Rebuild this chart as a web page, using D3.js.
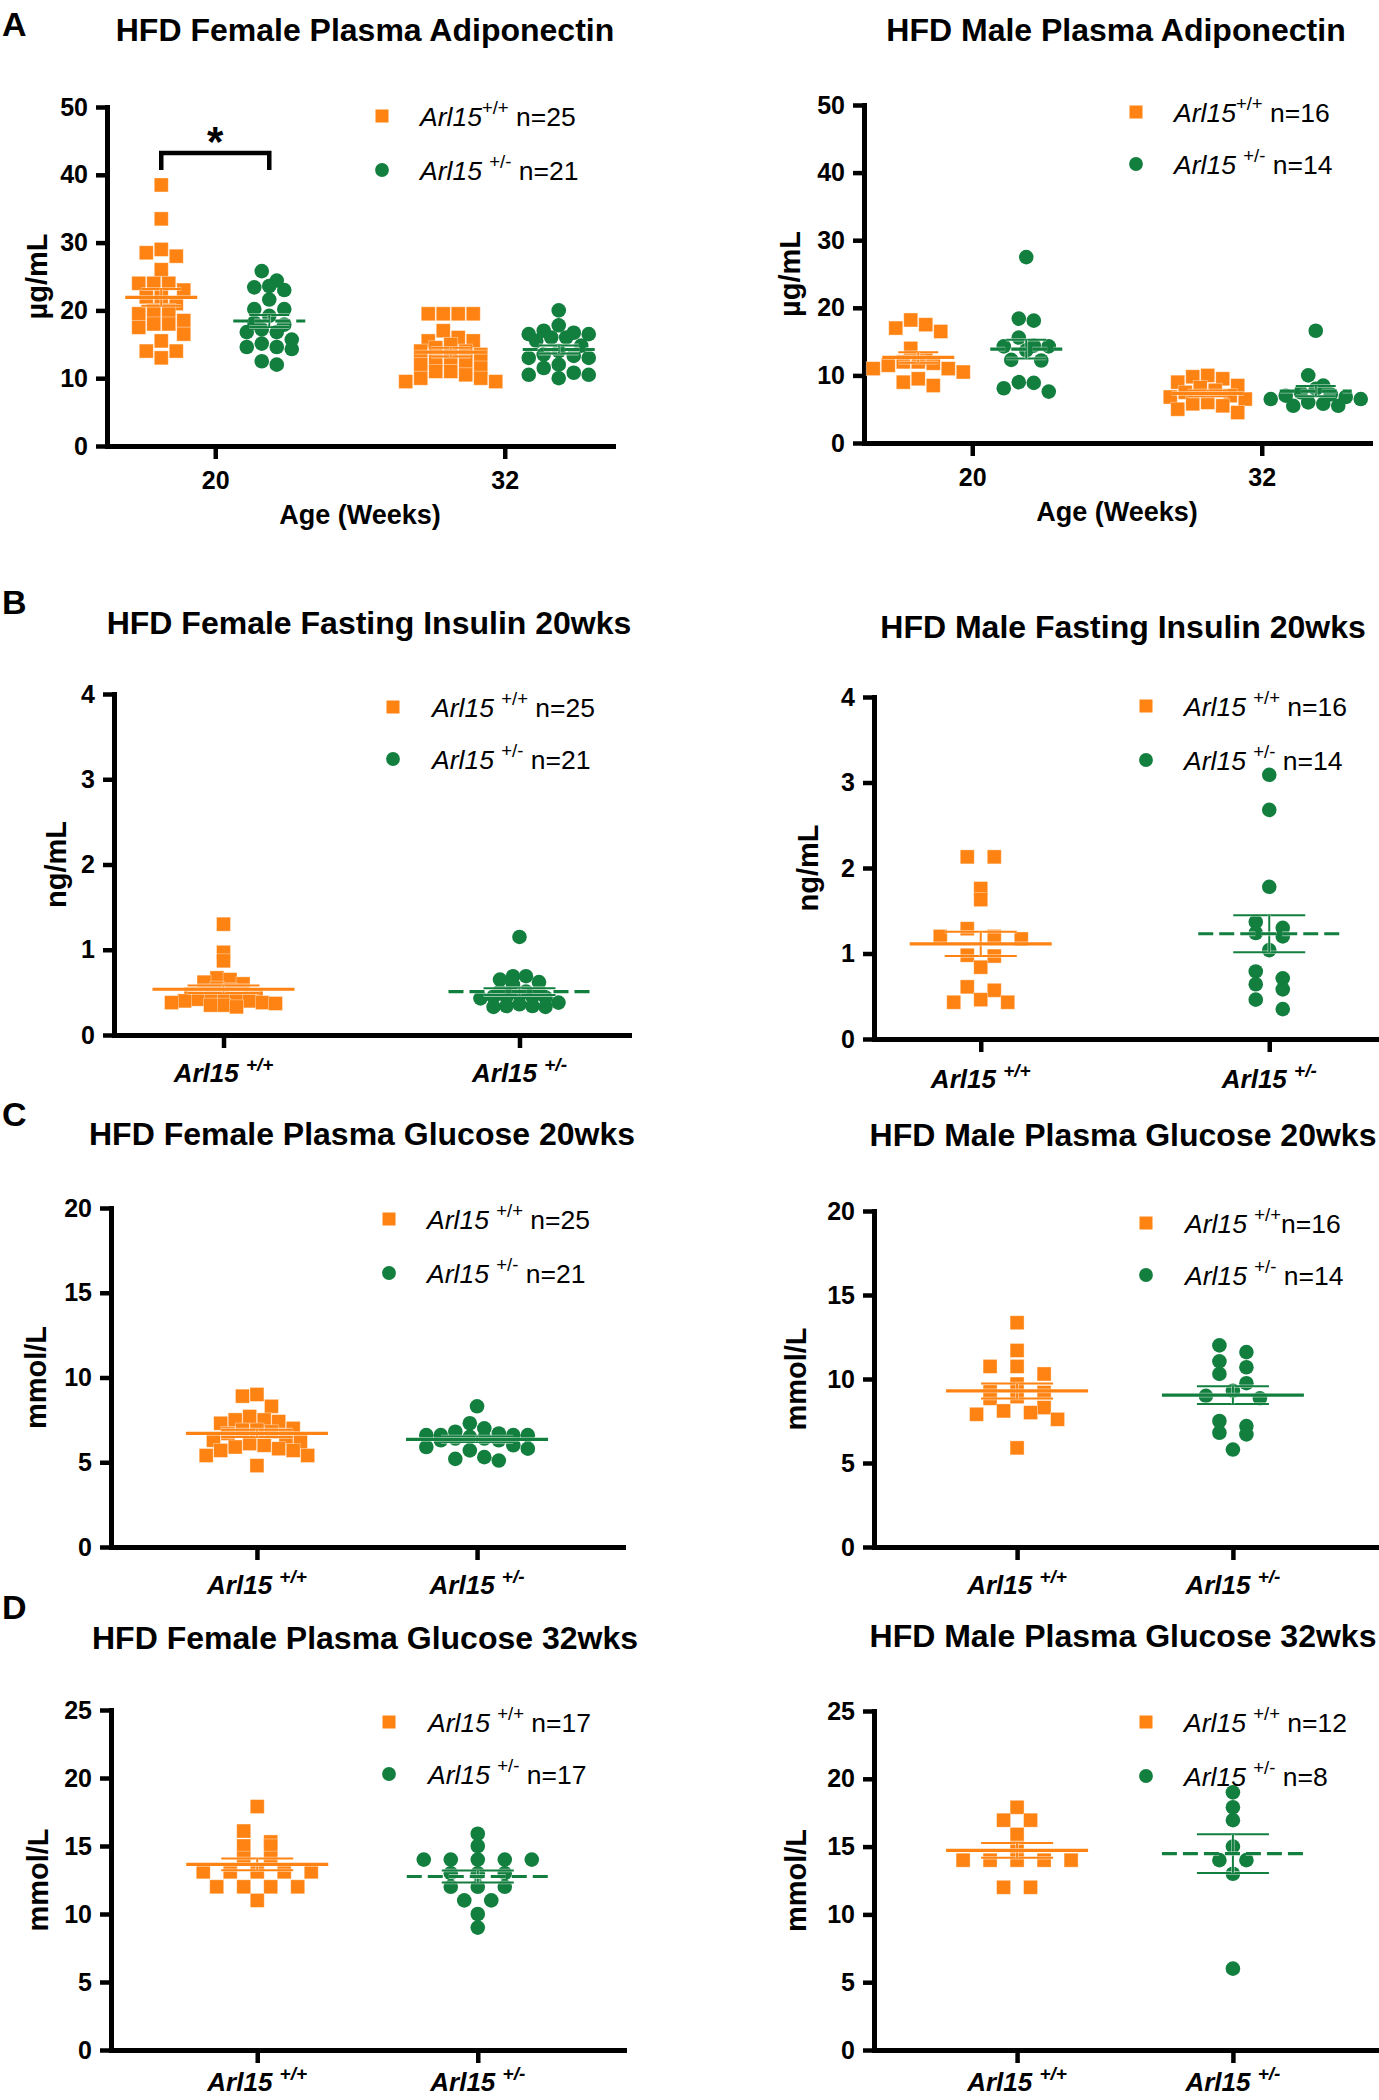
<!DOCTYPE html>
<html>
<head>
<meta charset="utf-8">
<script src="https://cdn.jsdelivr.net/npm/d3@7"></script>
<style>
  body { margin: 0; background: #ffffff; }
  svg { display: block; }
  text { font-family: "Liberation Sans", Arial, Helvetica, sans-serif; fill: #000; }
</style>
</head>
<body>
<svg id="fig" width="1379" height="2100"></svg>
<script>
// ---------------- DATA ----------------
const ages = ["20", "32"];
const genotypeCats = ["+/+", "+/-"];

// A: plasma adiponectin (µg/mL)
const adipoFemaleWT20  = [38.5, 33.5, 29, 28.5, 28, 26, 24, 24, 24, 23, 22, 22, 21, 20, 20, 19.5, 18.5, 18, 18, 17.5, 16.5, 15.5, 14, 14, 13];
const adipoFemaleHet20 = [25.8, 24.4, 23.6, 23.4, 23, 21.6, 20.2, 20.2, 19.2, 18.2, 17.9, 17.2, 16.8, 16.8, 15.7, 15.1, 14.6, 14.6, 14.3, 12.5, 12];
const adipoFemaleWT32  = [19.5, 19.5, 19.5, 19.5, 17, 16, 15.5, 15.5, 15, 14.5, 14, 14, 13.5, 13, 12.5, 12.5, 12, 11.5, 11, 11, 10.5, 10, 10, 9.5, 9.5];
const adipoFemaleHet32 = [20, 17.8, 17, 16.7, 16.5, 16.5, 16, 16, 15.5, 14.8, 14, 13.5, 13.3, 13, 13, 12, 11.5, 10.8, 10.5, 10.5, 10];
const adipoMaleWT20    = [18.2, 17.5, 17, 16.5, 14, 12.5, 12, 12, 11.8, 11.5, 11, 11, 10.5, 9.5, 9, 8.5];
const adipoMaleHet20   = [27.5, 18.4, 18.1, 15.6, 14.4, 14.3, 14.3, 13.7, 12.3, 12.2, 9, 8.9, 8.1, 7.6];
const adipoMaleWT32    = [10, 9.8, 9.5, 9, 8.5, 8.2, 7.8, 7.5, 7, 6.8, 6.5, 6, 5.8, 5.5, 5, 4.5];
const adipoMaleHet32   = [16.6, 10, 8.5, 8, 7.5, 7.2, 7, 6.8, 6.5, 6.5, 6, 5.8, 5.5, 5.5];

// B: fasting insulin 20 wks (ng/mL)
const insulinFemaleWT  = [1.3, 0.97, 0.87, 0.67, 0.65, 0.62, 0.6, 0.55, 0.53, 0.5, 0.5, 0.48, 0.47, 0.45, 0.45, 0.43, 0.42, 0.4, 0.4, 0.38, 0.38, 0.37, 0.35, 0.35, 0.33];
const insulinFemaleHet = [1.15, 0.69, 0.69, 0.65, 0.62, 0.59, 0.51, 0.51, 0.51, 0.47, 0.45, 0.45, 0.45, 0.44, 0.43, 0.38, 0.36, 0.34, 0.34, 0.33, 0.33];
const insulinMaleWT    = [2.13, 2.13, 1.76, 1.63, 1.29, 1.2, 1.2, 1.17, 0.98, 0.97, 0.84, 0.61, 0.57, 0.46, 0.43, 0.43];
const insulinMaleHet   = [3.09, 2.68, 1.78, 1.37, 1.3, 1.24, 1.2, 1.04, 0.79, 0.71, 0.64, 0.58, 0.46, 0.35];

// C: plasma glucose 20 wks (mmol/L)
const glu20FemaleWT  = [9.0, 8.9, 8.3, 7.7, 7.5, 7.5, 7.4, 7.3, 7.0, 6.9, 6.9, 6.8, 6.7, 6.5, 6.3, 6.2, 6.1, 6.0, 5.9, 5.8, 5.7, 5.7, 5.4, 5.4, 4.8];
const glu20FemaleHet = [8.3, 7.3, 7.0, 6.8, 6.7, 6.6, 6.6, 6.6, 6.6, 6.5, 6.4, 6.4, 6.3, 6.3, 6.0, 5.9, 5.8, 5.7, 5.3, 5.2, 5.1];
const glu20MaleWT    = [13.35, 11.7, 10.75, 10.75, 10.3, 9.7, 9.25, 9.2, 8.95, 8.85, 8.3, 8.1, 8.0, 7.9, 7.6, 5.9];
const glu20MaleHet   = [12.0, 11.6, 11.05, 10.7, 10.3, 9.75, 9.3, 9.0, 8.85, 7.5, 7.2, 6.8, 6.7, 5.8];

// D: plasma glucose 32 wks (mmol/L)
const glu32FemaleWT  = [17.9, 16.1, 15.3, 15, 15, 14.1, 14.1, 13.1, 13.1, 13.1, 13.1, 13.1, 12, 12, 12, 12, 11];
const glu32FemaleHet = [15.9, 15, 14, 14, 14, 14, 14, 13, 13, 13, 12, 12, 12, 11, 11, 10, 9];
const glu32MaleWT    = [17.9, 16.95, 16.95, 15.9, 14.9, 14, 14, 14, 14, 14, 12, 12];
const glu32MaleHet   = [19, 17.9, 16.95, 15, 14, 14, 13, 6];

// legend texts: [italic gene, superscript genotype, n]
const legendAF = [["Arl15", "+/+", " n=25"], ["Arl15 ", "+/-", " n=21"]];
const legendAM = [["Arl15", "+/+", " n=16"], ["Arl15 ", "+/-", " n=14"]];
const legendBF = [["Arl15 ", "+/+", " n=25"], ["Arl15 ", "+/-", "  n=21"]];
const legendBM = [["Arl15 ", "+/+", " n=16"], ["Arl15 ", "+/-", "  n=14"]];
const legendCF = [["Arl15 ", "+/+", " n=25"], ["Arl15 ", "+/-", " n=21"]];
const legendCM = [["Arl15 ", "+/+", "n=16"], ["Arl15 ", "+/-", " n=14"]];
const legendDF = [["Arl15 ", "+/+", " n=17"], ["Arl15 ", "+/-", "  n=17"]];
const legendDM = [["Arl15 ", "+/+", " n=12"], ["Arl15 ", "+/-", "  n=8"]];

const titles = [
  "HFD Female Plasma Adiponectin", "HFD Male Plasma Adiponectin",
  "HFD Female Fasting Insulin 20wks", "HFD Male Fasting Insulin 20wks",
  "HFD Female Plasma Glucose 20wks", "HFD Male Plasma Glucose 20wks",
  "HFD Female Plasma Glucose 32wks", "HFD Male Plasma Glucose 32wks"
];
const sigBracket = { cat: "20", low: 40.7, high: 43.2, label: "*" };

// ---------------- STYLE ----------------
const ORANGE = "#FF8312";
const GREEN = "#127F3F";
const FONT = '"Liberation Sans", Arial, Helvetica, sans-serif';
const SQ = 14;      // square marker side
const CR = 7.3;     // circle marker radius

const layoutA = { kind: "age", pad: 0.374, step: 15, tol: 12, meanHalf: 36, semHalf: 20, subOffset: 54 };
const layoutG = { kind: "geno", step: 27, tol: 11, meanHalf: 71, semHalf: 36, catDy: 47 };

const panels = [
  Object.assign({}, layoutA, { letter: "A", letterY: 36, title: titles[0], titleX: 365, titleY: 41,
    x0: 107, x1: 613, yTop: 107, yBot: 446, yMax: 50, yStep: 10, yLabel: "µg/mL", yLabelX: 37,
    legend: legendAF, legX: 382, legTX: 420, legY: [116, 170], dashGreen: true, sig: true,
    data: [[adipoFemaleWT20, adipoFemaleHet20], [adipoFemaleWT32, adipoFemaleHet32]] }),
  Object.assign({}, layoutA, { title: titles[1], titleX: 1116, titleY: 41,
    x0: 864, x1: 1370, yTop: 105, yBot: 443, yMax: 50, yStep: 10, yLabel: "µg/mL", yLabelX: 790,
    legend: legendAM, legX: 1136, legTX: 1174, legY: [112, 164], dashGreen: true,
    data: [[adipoMaleWT20, adipoMaleHet20], [adipoMaleWT32, adipoMaleHet32]] }),
  Object.assign({}, layoutG, { letter: "B", letterY: 614, title: titles[2], titleX: 369, titleY: 634,
    x0: 114, x1: 629, yTop: 694, yBot: 1035, yMax: 4, yStep: 1, yLabel: "ng/mL", yLabelX: 56, pad: 0.37,
    legend: legendBF, legX: 393, legTX: 432, legY: [707, 759], dashGreen: true, step: 13, tol: 8,
    data: [insulinFemaleWT, insulinFemaleHet] }),
  Object.assign({}, layoutG, { title: titles[3], titleX: 1123, titleY: 638,
    x0: 874, x1: 1376, yTop: 697, yBot: 1039, yMax: 4, yStep: 1, yLabel: "ng/mL", yLabelX: 808, pad: 0.37,
    legend: legendBM, legX: 1146, legTX: 1184, legY: [706, 760], dashGreen: true, catDy: 49,
    data: [insulinMaleWT, insulinMaleHet] }),
  Object.assign({}, layoutG, { letter: "C", letterY: 1126, title: titles[4], titleX: 362, titleY: 1145,
    x0: 111, x1: 623, yTop: 1208, yBot: 1547, yMax: 20, yStep: 5, yLabel: "mmol/L", yLabelX: 36, pad: 0.663,
    legend: legendCF, legX: 389, legTX: 427, legY: [1219, 1273], dashGreen: false, step: 14.5, tol: 12,
    data: [glu20FemaleWT, glu20FemaleHet] }),
  Object.assign({}, layoutG, { title: titles[5], titleX: 1123, titleY: 1146,
    x0: 874, x1: 1376, yTop: 1211, yBot: 1547, yMax: 20, yStep: 5, yLabel: "mmol/L", yLabelX: 796, pad: 0.663,
    legend: legendCM, legX: 1146, legTX: 1185, legY: [1223, 1275], dashGreen: false,
    data: [glu20MaleWT, glu20MaleHet] }),
  Object.assign({}, layoutG, { letter: "D", letterY: 1619, title: titles[6], titleX: 365, titleY: 1649,
    x0: 111, x1: 624, yTop: 1710, yBot: 2050, yMax: 25, yStep: 5, yLabel: "mmol/L", yLabelX: 38, pad: 0.663,
    legend: legendDF, legX: 389, legTX: 428, legY: [1722, 1774], dashGreen: true, catDy: 41,
    data: [glu32FemaleWT, glu32FemaleHet] }),
  Object.assign({}, layoutG, { title: titles[7], titleX: 1123, titleY: 1647,
    x0: 874, x1: 1376, yTop: 1711, yBot: 2050, yMax: 25, yStep: 5, yLabel: "mmol/L", yLabelX: 796, pad: 0.663,
    legend: legendDM, legX: 1146, legTX: 1184, legY: [1722, 1776], dashGreen: true, catDy: 41,
    data: [glu32MaleWT, glu32MaleHet] })
];

const svg = d3.select("#fig");

// Prism-like row scatter: points with close values share a row, spread symmetrically
function swarm(vals, y, step, tol) {
  const pts = vals.map(v => ({ v, py: y(v) })).sort((a, b) => a.py - b.py);
  const rows = [];
  let cur = null;
  pts.forEach(p => {
    if (cur && p.py - cur.start < tol) cur.pts.push(p);
    else { cur = { start: p.py, pts: [p] }; rows.push(cur); }
  });
  const out = [];
  rows.forEach(r => {
    const n = r.pts.length;
    const offs = d3.range(n).map(k => (k - (n - 1) / 2) * step)
      .sort((a, b) => Math.abs(a) - Math.abs(b) || a - b);
    r.pts.forEach((p, k) => out.push({ v: p.v, py: p.py, dx: offs[k] }));
  });
  return out;
}

function drawGroup(g, vals, cx, y, p, gi) {
  const color = gi === 0 ? ORANGE : GREEN;
  const pts = swarm(vals, y, p.step, p.tol);
  if (gi === 0) {
    g.selectAll(null).data(pts).join("rect")
      .attr("x", d => cx + d.dx - SQ / 2).attr("y", d => d.py - SQ / 2)
      .attr("width", SQ).attr("height", SQ)
      .attr("fill", color).attr("stroke", "#ffffff").attr("stroke-opacity", 0.45).attr("stroke-width", 0.8);
  } else {
    g.selectAll(null).data(pts).join("circle")
      .attr("cx", d => cx + d.dx).attr("cy", d => d.py).attr("r", CR)
      .attr("fill", color);
  }
  const mean = d3.mean(vals);
  const sem = d3.deviation(vals) / Math.sqrt(vals.length);
  const dash = (gi === 1 && p.dashGreen) ? "15,6" : null;
  const lines = [
    { x1: cx - p.semHalf, x2: cx + p.semHalf, y1: y(mean + sem), y2: y(mean + sem), w: 2 },
    { x1: cx - p.semHalf, x2: cx + p.semHalf, y1: y(mean - sem), y2: y(mean - sem), w: 2 },
    { x1: cx, x2: cx, y1: y(mean + sem), y2: y(mean - sem), w: 2 },
    { x1: cx - p.meanHalf, x2: cx + p.meanHalf, y1: y(mean), y2: y(mean), w: 3.2, dash }
  ];
  lines.forEach(l => {
    g.append("line").attr("x1", l.x1).attr("x2", l.x2).attr("y1", l.y1).attr("y2", l.y2)
      .attr("stroke", "#ffffff").attr("stroke-opacity", 0.55).attr("stroke-width", l.w + 1.6)
      .attr("stroke-dasharray", l.dash);
    g.append("line").attr("x1", l.x1).attr("x2", l.x2).attr("y1", l.y1).attr("y2", l.y2)
      .attr("stroke", color).attr("stroke-width", l.w).attr("stroke-dasharray", l.dash);
  });
}

function genoText(sel, base, sup, post, size, supSize, weight, italicAll) {
  sel.append("tspan").text(base).attr("font-style", "italic").attr("font-weight", weight);
  sel.append("tspan").text(sup).attr("font-size", supSize).attr("dy", -size * 0.42)
    .attr("font-weight", weight).attr("font-style", italicAll ? "italic" : "normal");
  if (post) sel.append("tspan").text(post).attr("dy", size * 0.42).attr("font-size", size)
    .attr("font-weight", weight).attr("font-style", "normal");
}

panels.forEach(p => {
  const g = svg.append("g");
  const y = d3.scaleLinear().domain([0, p.yMax]).range([p.yBot, p.yTop]);
  const xCats = p.kind === "age" ? ages : genotypeCats;
  const x = d3.scalePoint().domain(xCats).range([p.x0, p.x1]).padding(p.pad);

  // letter + title
  if (p.letter) g.append("text").attr("x", 2).attr("y", p.letterY).text(p.letter)
    .attr("font-size", 34).attr("font-weight", "bold");
  g.append("text").attr("x", p.titleX).attr("y", p.titleY).attr("text-anchor", "middle")
    .attr("font-size", 32).attr("font-weight", "bold").text(p.title);

  // axes
  const yAxis = d3.axisLeft(y).tickValues(d3.range(0, p.yMax + 0.001, p.yStep))
    .tickSize(11).tickSizeOuter(0).tickPadding(8).tickFormat(d3.format("d"));
  const ya = g.append("g").attr("transform", `translate(${p.x0},0)`).call(yAxis);
  const xAxis = d3.axisBottom(x).tickSize(13).tickSizeOuter(0).tickPadding(12)
    .tickFormat(p.kind === "age" ? (d => d) : () => "");
  const xa = g.append("g").attr("transform", `translate(0,${p.yBot})`).call(xAxis);
  [ya, xa].forEach(a => {
    a.select(".domain").attr("stroke", "#000").attr("stroke-width", 5).attr("stroke-linecap", "square");
    a.selectAll(".tick line").attr("stroke", "#000").attr("stroke-width", 4.5);
    a.selectAll(".tick text").attr("font-family", FONT).attr("font-size", 25)
      .attr("font-weight", "bold").attr("fill", "#000");
  });

  // y label
  g.append("text").attr("transform", `translate(${p.yLabelX},${(p.yTop + p.yBot) / 2}) rotate(-90)`)
    .attr("text-anchor", "middle").attr("dominant-baseline", "central")
    .attr("font-size", 29).attr("font-weight", "bold").text(p.yLabel);

  if (p.kind === "age") {
    g.append("text").attr("x", (p.x0 + p.x1) / 2).attr("y", p.yBot + 78).attr("text-anchor", "middle")
      .attr("font-size", 27).attr("font-weight", "bold").text("Age (Weeks)");
    const sub = d3.scalePoint().domain(genotypeCats).range([-p.subOffset, p.subOffset]);
    ages.forEach((a, ai) => {
      genotypeCats.forEach((gc, gi) => {
        drawGroup(g, p.data[ai][gi], x(a) + sub(gc), y, p, gi);
      });
    });
    if (p.sig) {
      const xa1 = x(sigBracket.cat) + sub(genotypeCats[0]);
      const xa2 = x(sigBracket.cat) + sub(genotypeCats[1]);
      g.append("path")
        .attr("d", `M${xa1},${y(sigBracket.low)}V${y(sigBracket.high)}H${xa2}V${y(sigBracket.low)}`)
        .attr("fill", "none").attr("stroke", "#000").attr("stroke-width", 4.5);
      g.append("text").attr("x", (xa1 + xa2) / 2).attr("y", y(sigBracket.high) + 3)
        .attr("text-anchor", "middle").attr("font-size", 42).attr("font-weight", "bold").text(sigBracket.label);
    }
  } else {
    genotypeCats.forEach((gc, gi) => {
      drawGroup(g, p.data[gi], x(gc), y, p, gi);
      const t = g.append("text").attr("x", x(gc)).attr("y", p.yBot + p.catDy).attr("text-anchor", "middle")
        .attr("font-size", 26);
      genoText(t, "Arl15 ", gc, null, 26, 19, "bold", true);
    });
  }

  // legend
  p.legend.forEach((L, i) => {
    const ly = p.legY[i];
    if (i === 0) g.append("rect").attr("x", p.legX - 6.5).attr("y", ly - 6.5).attr("width", 13).attr("height", 13).attr("fill", ORANGE);
    else g.append("circle").attr("cx", p.legX).attr("cy", ly).attr("r", 6.9).attr("fill", GREEN);
    const t = g.append("text").attr("x", p.legTX).attr("y", ly + 9.5).attr("font-size", 26.5);
    genoText(t, L[0], L[1], L[2], 26.5, 18.5, "normal", false);
  });
});
</script>
</body>
</html>
